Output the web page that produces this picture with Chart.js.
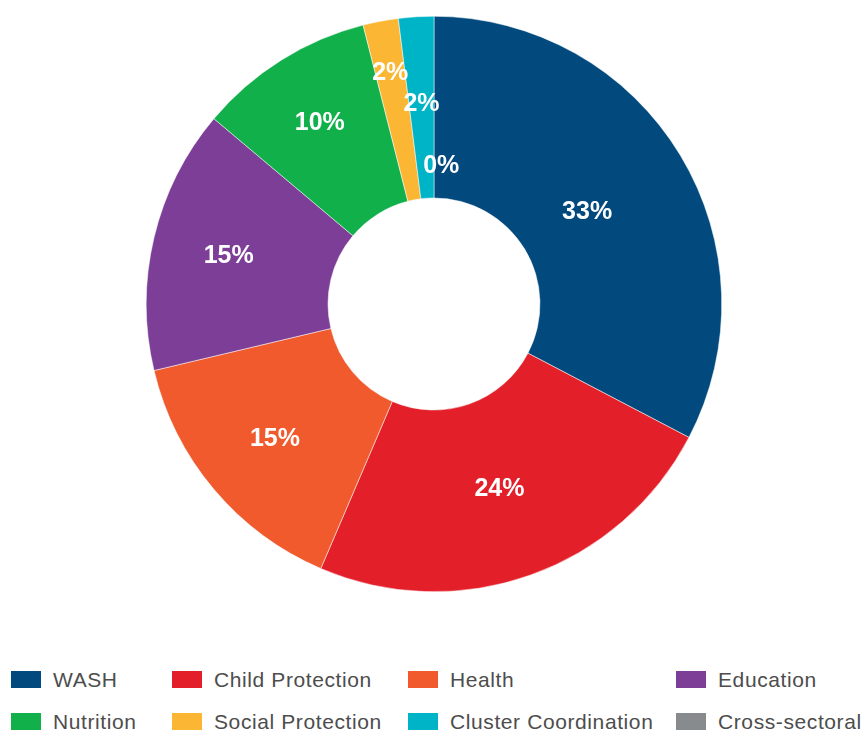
<!DOCTYPE html>
<html>
<head>
<meta charset="utf-8">
<script src="https://cdn.jsdelivr.net/npm/chart.js@4"></script>
<style>
  body { margin: 0; background: #fff; width: 861px; height: 731px; position: relative; overflow: hidden; }
  #wrap { position: absolute; left: 0; top: 0; width: 861px; height: 640px; }
  .leg { position: absolute; font-family: "Liberation Sans", Arial, sans-serif; font-size: 21px; letter-spacing: 0.6px; color: #4d4d4d; line-height: 21px; white-space: nowrap; }
  .sw { position: absolute; width: 30px; height: 17px; }
</style>
</head>
<body>
<div id="wrap"><canvas id="sectors" width="861" height="640"></canvas></div>
<div id="legend"></div>
<script>
const sectors = ['WASH', 'Child Protection', 'Health', 'Education', 'Nutrition', 'Social Protection', 'Cluster Coordination', 'Cross-sectoral'];
const shares = [33, 24, 15, 15, 10, 2, 2, 0];
const sectorColors = ['#024a7e', '#e3202a', '#f05a2d', '#7d3e97', '#12b04b', '#fbb634', '#00b4c7', '#888b8e'];

// where each percentage sits: distance from centre (px) and a small angle nudge (deg)
const labelRadius = [179, 195, 208, 211, 215, 236, 201, 139];
const labelNudge = [0, 0, 0, 0, 0, 0, 0, 3];

// legend grid: 4 columns, 2 rows
const legendCols = [11, 172, 408, 676];
const legendRows = [671, 713];

const legend = document.getElementById('legend');
sectors.forEach((name, i) => {
    let x = legendCols[i % 4];
    let y = legendRows[Math.floor(i / 4)];
    let sw = document.createElement('div');
    sw.className = 'sw';
    sw.style.left = x + 'px';
    sw.style.top = y + 'px';
    sw.style.background = sectorColors[i];
    legend.appendChild(sw);
    let txt = document.createElement('div');
    txt.className = 'leg';
    txt.style.left = (x + 42) + 'px';
    txt.style.top = (y - 2) + 'px';
    txt.textContent = name;
    legend.appendChild(txt);
});

const sliceLabels = {
    id: 'sliceLabels',
    afterDatasetsDraw(chart) {
        let ctx = chart.ctx;
        let meta = chart.getDatasetMeta(0);
        ctx.save();
        ctx.fillStyle = '#ffffff';
        ctx.font = 'bold 25px "Liberation Sans", Arial, sans-serif';
        ctx.textAlign = 'center';
        ctx.textBaseline = 'middle';
        meta.data.forEach((arc, i) => {
            let mid = (arc.startAngle + arc.endAngle) / 2 + labelNudge[i] * Math.PI / 180;
            let r = labelRadius[i];
            ctx.fillText(shares[i] + '%', arc.x + Math.cos(mid) * r, arc.y + Math.sin(mid) * r + 1);
        });
        ctx.restore();
    }
};

new Chart(document.getElementById('sectors'), {
    type: 'doughnut',
    data: {
        labels: sectors,
        datasets: [{
            data: shares,
            backgroundColor: sectorColors,
            borderColor: '#ffffff',
            borderWidth: 0.5
        }]
    },
    options: {
        responsive: false,
        animation: false,
        cutout: 106,
        layout: { padding: { top: 16, bottom: 48, left: 7, right: 0 } },
        plugins: {
            legend: { display: false },
            tooltip: { enabled: false }
        }
    },
    plugins: [sliceLabels]
});
</script>
</body>
</html>
